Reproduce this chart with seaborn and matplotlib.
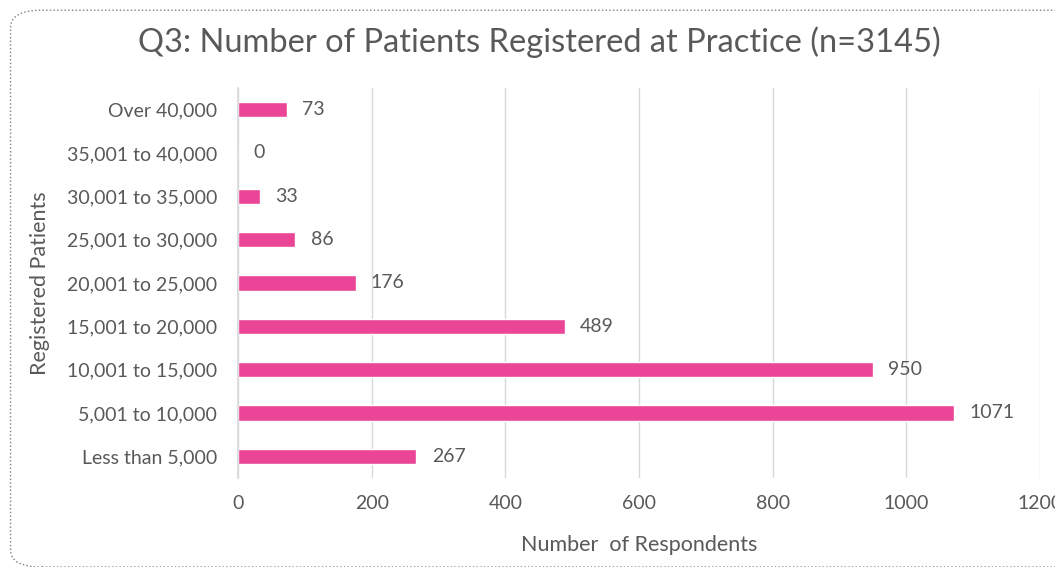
import matplotlib
matplotlib.use("Agg")
import matplotlib.pyplot as plt
import seaborn as sns
import pandas as pd
from matplotlib.patches import FancyBboxPatch

categories = ["Over 40,000", "35,001 to 40,000", "30,001 to 35,000", "25,001 to 30,000",
              "20,001 to 25,000", "15,001 to 20,000", "10,001 to 15,000",
              "5,001 to 10,000", "Less than 5,000"]
counts = [73, 0, 33, 86, 176, 489, 950, 1071, 267]
x_ticks = [0, 200, 400, 600, 800, 1000, 1200]

BAR_COLOR = "#EA4596"
TEXT_COLOR = "#595959"

sns.set_theme(style="white")
plt.rcParams["font.family"] = ["Lato", "DejaVu Sans"]

df = pd.DataFrame({"band": categories, "n": counts})

fig = plt.figure(figsize=(10.55, 5.67), dpi=100)
ax = fig.add_axes([0.2256, 0.157, 0.7602, 0.688])

sns.barplot(data=df, x="n", y="band", orient="h", color=BAR_COLOR,
            width=0.35, saturation=1, ax=ax)

# value labels just right of each bar
for i, v in enumerate(counts):
    ax.annotate(str(v), xy=(v, i), xytext=(11, 0), textcoords="offset points",
                ha="left", va="center", fontsize=14, color=TEXT_COLOR)

ax.set_xlim(0, 1200)
ax.set_ylim(8.5, -0.5)
ax.set_xticks(x_ticks)
ax.set_xticklabels([str(t) for t in x_ticks])
ax.grid(axis="x", color="#D9D9D9", linewidth=1)
ax.set_axisbelow(True)
for s in ["top", "right", "bottom"]:
    ax.spines[s].set_visible(False)
ax.spines["left"].set_color("#D9D9D9")
ax.tick_params(axis="both", length=0, labelsize=14, labelcolor=TEXT_COLOR)
ax.tick_params(axis="y", pad=15)
ax.tick_params(axis="x", pad=12)

ax.set_xlabel("Number  of Respondents", fontsize=15.5, color=TEXT_COLOR, labelpad=17)
ax.set_ylabel("Registered Patients", fontsize=15.5, color=TEXT_COLOR, labelpad=12)

fig.text(0.511, 0.926, "Q3: Number of Patients Registered at Practice (n=3145)",
         ha="center", va="center", fontsize=23.5, color=TEXT_COLOR)

border = FancyBboxPatch((0.010, 0.0), 1.2, 0.982,
                        boxstyle="round,pad=0,rounding_size=0.03",
                        transform=fig.transFigure, fill=False,
                        edgecolor="#7F7F7F", linestyle=":", linewidth=1, clip_on=False)
fig.patches.append(border)

fig.savefig("out.png", dpi=100)
